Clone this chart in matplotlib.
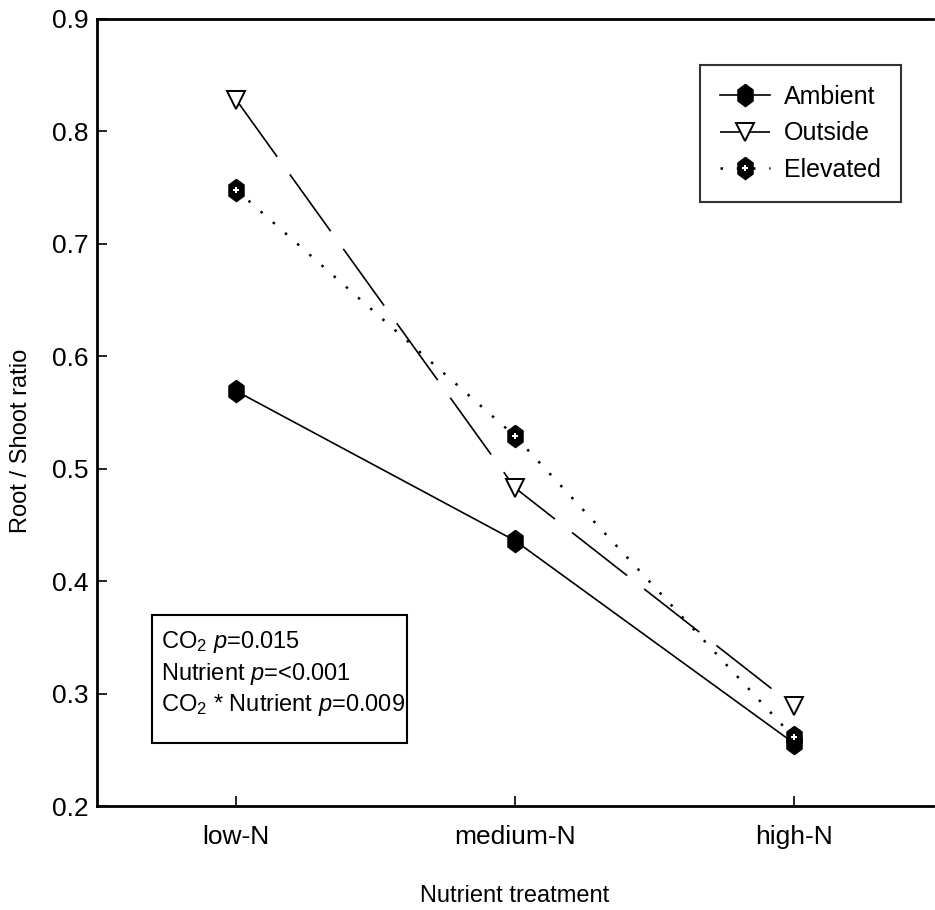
import matplotlib
matplotlib.use("Agg")
import matplotlib.pyplot as plt
from matplotlib.legend_handler import HandlerTuple
from matplotlib.patches import Rectangle

FAM = ['Liberation Sans', 'DejaVu Sans']
plt.rcParams['font.family'] = FAM
plt.rcParams['mathtext.fontset'] = 'custom'
plt.rcParams['mathtext.rm'] = FAM[0]
plt.rcParams['mathtext.it'] = FAM[0] + ':italic'

categories = ["low-N", "medium-N", "high-N"]
ambient = [0.569, 0.436, 0.256]
outside = [0.828, 0.483, 0.289]
elevated = [0.748, 0.529, 0.261]
yticks = [0.2, 0.3, 0.4, 0.5, 0.6, 0.7, 0.8, 0.9]
stats = ["CO$_2$ $p$=0.015", "Nutrient $p$=<0.001", "CO$_2$ * Nutrient $p$=0.009"]

W, H = 935, 910
fig = plt.figure(figsize=(W / 100, H / 100), dpi=100)
ax = fig.add_axes([97 / W, 1 - 806 / H, 836 / W, (806 - 19) / H])

xs = list(range(1, len(categories) + 1))
hexm = [(0, 1), (0.68, 0.5), (0.68, -0.5), (0, -1), (-0.68, -0.5), (-0.68, 0.5), (0, 1)]

l_amb, = ax.plot(xs, ambient, color='black', lw=1.2, marker=hexm, markersize=16,
                 markerfacecolor='black', markeredgecolor='black', label='Ambient', zorder=3)
l_out, = ax.plot(xs, outside, color='black', lw=1.2, linestyle=(0, (42, 13)), marker='v',
                 markersize=13, markerfacecolor='white', markeredgecolor='black',
                 markeredgewidth=1.4, label='Outside', zorder=4)
l_ele, = ax.plot(xs, elevated, color='black', lw=1.8, linestyle=(0, (1, 5.5)), marker=hexm,
                 markersize=16, markerfacecolor='black', markeredgecolor='black',
                 label='Elevated', zorder=5)
l_ele2, = ax.plot(xs, elevated, linestyle='none', marker='P', markersize=5,
                  markerfacecolor='white', markeredgecolor='white', markeredgewidth=0, zorder=6)

ax.set_xlim(0.5, 3.5)
ax.set_ylim(0.2, 0.9)
ax.set_xticks(xs)
ax.set_xticklabels(categories)
ax.set_yticks(yticks)
ax.set_yticklabels([f"{v:.1f}" for v in yticks])
ax.tick_params(axis='both', direction='in', length=7, width=1.2, labelsize=19)
ax.tick_params(axis='y', pad=6)
ax.tick_params(axis='x', pad=14)
for s in ['left', 'top', 'bottom']:
    ax.spines[s].set_linewidth(2)
ax.spines['right'].set_visible(False)

ax.set_xlabel("Nutrient treatment", fontsize=17)
ax.set_ylabel("Root / Shoot ratio", fontsize=17)
ax.xaxis.set_label_coords(0.5, -(896 - 806) / 787)
ax.xaxis.label.set_va('center')
ax.yaxis.set_label_coords(-(97 - 21) / 836, (806 - 441) / 787)
ax.yaxis.label.set_va('center')

leg = ax.legend([l_amb, l_out, (l_ele, l_ele2)], ["Ambient", "Outside", "Elevated"],
                handler_map={tuple: HandlerTuple(ndivide=1)},
                loc='upper right', bbox_to_anchor=(901 / W, 1 - 65 / H),
                bbox_transform=fig.transFigure, borderaxespad=0, fontsize=18,
                frameon=True, fancybox=False, edgecolor='black', handlelength=2.0,
                handletextpad=0.55, borderpad=0.8, labelspacing=0.5)
leg.get_frame().set_linewidth(1.5)

fig.patches.append(Rectangle((152 / W, 1 - 743 / H), (407 - 152) / W, (743 - 615) / H,
                             transform=fig.transFigure, facecolor='white',
                             edgecolor='black', linewidth=1.5, zorder=1))
fig.text(161 / W, 1 - 629 / H, "\n".join(stats), fontsize=17, va='top', ha='left',
         linespacing=1.3, zorder=2)

fig.savefig("out.png", dpi=100)
